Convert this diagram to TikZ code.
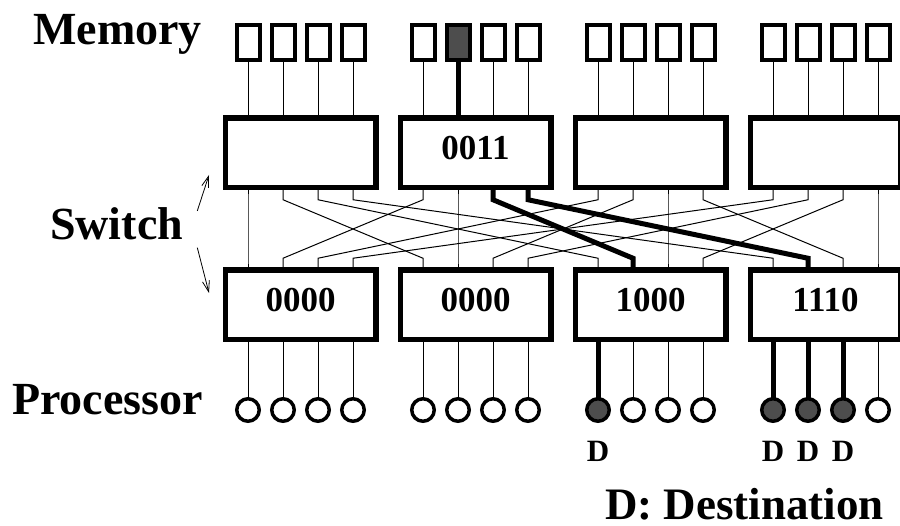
\documentclass[tikz,border=0pt]{standalone}
\usepackage{fontspec}
\setmainfont{Liberation Serif}
\usepackage{tikz}
\usetikzlibrary{arrows.meta}
\definecolor{cdark}{HTML}{4D4D4D}
\tikzset{>={Straight Barb[length=11pt,width=7pt]}}
\tikzset{
  swbox/.style={draw,line width=5.5pt,minimum width=150.5pt,minimum height=69.5pt,
    inner sep=0pt,outer sep=0pt,text depth=11pt,font=\bfseries\fontsize{35}{37}\selectfont},
  mem/.style={draw,line width=4pt,minimum width=23pt,minimum height=35pt,
    inner sep=0pt,outer sep=0pt,fill=white},
  proc/.style={draw,circle,line width=3.5pt,minimum size=22.5pt,
    inner sep=0pt,outer sep=0pt,fill=white},
  filled/.style={fill=cdark},
  sel-m11/.style=filled,
  sel-p20/.style=filled, sel-p30/.style=filled,
  sel-p31/.style=filled, sel-p32/.style=filled,
  wire/.style={line width=1pt},
  hot/.style={line width=5pt},
  lbl/.style={inner sep=0pt,anchor=base west,font=\bfseries\fontsize{46}{50}\selectfont},
  dlbl/.style={inner sep=0pt,anchor=base,font=\bfseries\fontsize{31}{34}\selectfont}
}

\begin{document}
\begin{tikzpicture}[x=1pt,y=-1pt]
\useasboundingbox (0,0) rectangle (900,526);

% ============ row labels ============
\node[lbl] (memlbl) at (33,45) {Memory};
\node[lbl] (swlbl) at (50,240) {Switch};
\node[lbl] (proclbl) at (12,415) {Processor};
\node[lbl,font=\bfseries\fontsize{45}{50}\selectfont] (keylbl) at (605,519) {D: Destination};

% ============ switch stages ============
\foreach \i/\up/\lo in {0//0000,1/0011/0000,2//1000,3//1110} {
  \node[swbox] (u\i) at (300.5+175*\i,153) {\up};
  \node[swbox] (l\i) at (300.5+175*\i,305) {\lo};
}

% ============ memories and processors ============
\foreach \i in {0,...,3}
  \foreach \j in {0,...,3} {
    \node[mem,sel-m\i\j/.try] (m\i\j) at (248+175*\i+35*\j,42.5) {};
    \node[proc,sel-p\i\j/.try] (p\i\j) at (248+175*\i+35*\j,410) {};
  }

% ============ wiring ============
\foreach \i in {0,...,3}
  \foreach \j in {0,...,3} {
    \draw[wire] (m\i\j) -- (m\i\j |- u\i.north);
    \draw[wire] (m\i\j |- u\i.south) -- ++(0,12)
      -- ([yshift=12pt]m\j\i |- l\j.north) -- (m\j\i |- l\j.north);
    \draw[wire] (p\i\j |- l\i.south) -- (p\i\j);
  }

% ============ multicast path ============
\draw[hot] (m11) -- (m11 |- u1.north);
\draw[hot] (m12 |- u1.south) -- ++(0,12) -- ([yshift=12pt]m21 |- l2.north) -- (m21 |- l2.north);
\draw[hot] (m13 |- u1.south) -- ++(0,12) -- ([yshift=12pt]m31 |- l3.north) -- (m31 |- l3.north);
\foreach \n in {p20,p30,p31,p32} {
  \draw[hot] (\n |- l2.south) -- (\n);
  \node[dlbl] (d-\n) at ([yshift=-52pt]\n.center) {D};
}

% ============ stage arrows ============
\coordinate (swup) at (209,175);
\coordinate (swdn) at (209,293);
\draw[->,line width=0.8pt] ([shift={(14,3)}]swlbl.north east) -- (swup);
\draw[->,line width=0.8pt] ([shift={(14,7)}]swlbl.south east) -- (swdn);

\end{tikzpicture}
\end{document}
